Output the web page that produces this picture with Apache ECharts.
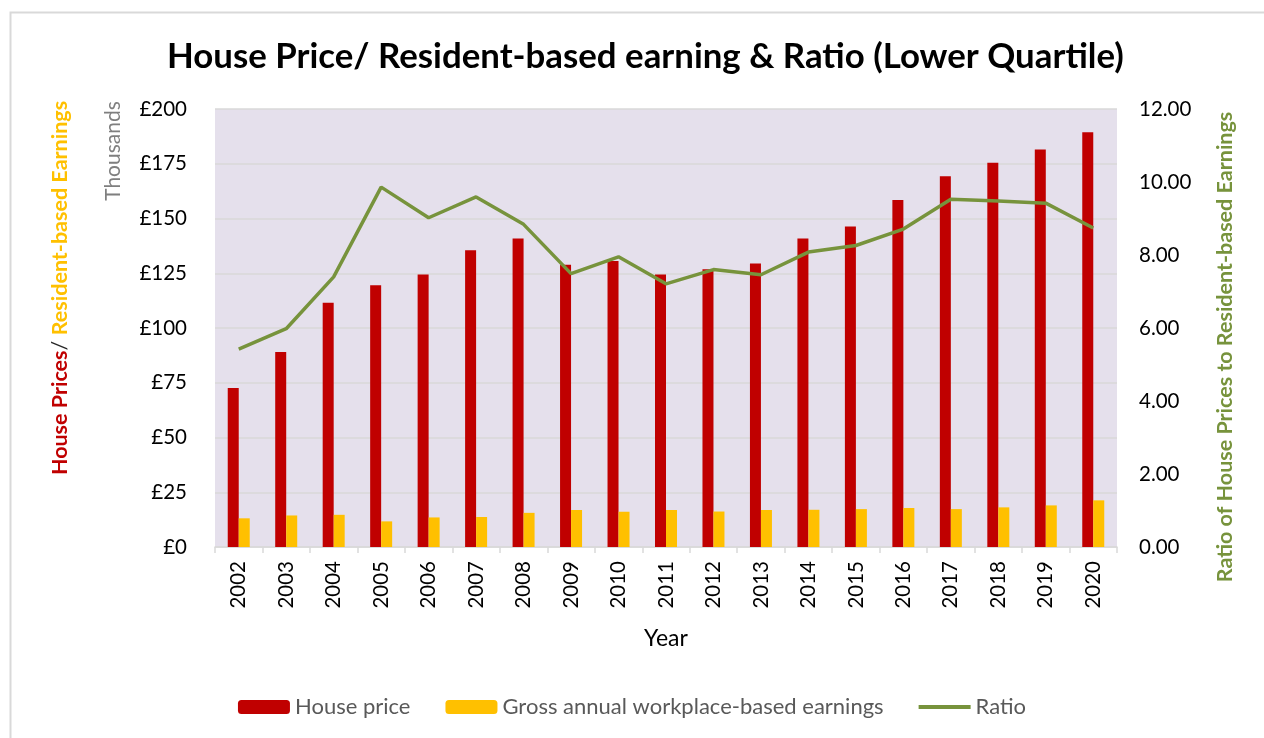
<!DOCTYPE html>
<html>
<head>
<meta charset="utf-8">
<script src="https://cdn.jsdelivr.net/npm/echarts@6/dist/echarts.min.js"></script>
<style>
  html, body { margin: 0; padding: 0; background: #fff; }
  #chart { width: 1264px; height: 738px; }
</style>
</head>
<body>
<div id="chart"></div>
<script>
// years on the x axis
var years = ['2002', '2003', '2004', '2005', '2006', '2007', '2008', '2009', '2010', '2011',
             '2012', '2013', '2014', '2015', '2016', '2017', '2018', '2019', '2020'];
// lower quartile house price, £ thousands
var housePrice = [72.6, 89.0, 111.5, 119.5, 124.4, 135.5, 140.9, 128.9, 130.6, 124.4,
                  126.8, 129.4, 140.9, 146.4, 158.4, 169.3, 175.4, 181.5, 189.4];
// gross annual earnings, £ thousands
var earnings = [13.1, 14.4, 14.7, 11.7, 13.5, 13.7, 15.6, 16.9, 16.1, 16.9,
                16.2, 16.9, 17.0, 17.3, 17.8, 17.3, 18.1, 19.0, 21.3];
// price to earnings ratio
var ratio = [5.42, 5.98, 7.40, 9.86, 9.02, 9.59, 8.84, 7.49, 7.95, 7.21,
             7.60, 7.46, 8.08, 8.26, 8.71, 9.53, 9.48, 9.42, 8.74];

var FONT = 'Lato';
var chartDom = document.getElementById('chart');
var myChart = echarts.init(chartDom);

var option = {
  animation: false,
  textStyle: { fontFamily: FONT },
  title: {
    text: 'House Price/ Resident-based earning & Ratio (Lower Quartile)',
    left: 162,
    top: 34,
    textStyle: { fontFamily: FONT, fontSize: 34.8, fontWeight: 'bold', color: '#000' }
  },
  legend: {
    left: 'center',
    top: 691,
    itemWidth: 52,
    itemHeight: 14,
    itemGap: 35,
    textStyle: { fontFamily: FONT, fontSize: 22, color: '#595959' },
    data: [
      'House price',
      'Gross annual workplace-based earnings',
      { name: 'Ratio', icon: 'path://M0,0 L52,0 L52,4 L0,4 Z' }
    ]
  },
  grid: {
    left: 215, right: 147, top: 109, bottom: 191,
    show: true, backgroundColor: '#e5e0ec', borderWidth: 0
  },
  graphic: [
    { type: 'rect', left: 8, top: 10, z: -10,
      shape: { width: 1300, height: 800 },
      style: { fill: 'none', stroke: '#d9d9d9', lineWidth: 2 } },
    { type: 'text', x: 60, y: 288, rotation: Math.PI / 2,
      style: {
        text: '{a|House Prices}{b|/ }{c|Resident-based Earnings}',
        align: 'center', verticalAlign: 'middle',
        rich: {
          a: { fontFamily: FONT, fontSize: 21.5, fontWeight: 'bold', fill: '#c00000' },
          b: { fontFamily: FONT, fontSize: 21.5, fill: '#262626' },
          c: { fontFamily: FONT, fontSize: 21.5, fontWeight: 'bold', fill: '#ffc000' }
        }
      } },
    { type: 'text', x: 113, y: 151, rotation: Math.PI / 2,
      style: { text: 'Thousands', align: 'center', verticalAlign: 'middle',
        fontFamily: FONT, fontSize: 21, fill: '#7f7f7f' } },
    { type: 'text', x: 1225, y: 347, rotation: Math.PI / 2,
      style: { text: 'Ratio of House Prices to Resident-based Earnings', align: 'center', verticalAlign: 'middle',
        fontFamily: FONT, fontSize: 21.5, fontWeight: 'bold', fill: '#77933c' } }
  ],
  xAxis: {
    type: 'category',
    data: years,
    name: 'Year',
    nameLocation: 'middle',
    nameGap: 80,
    nameTextStyle: { fontFamily: FONT, fontSize: 23, color: '#000' },
    axisLine: { lineStyle: { color: '#d9d9d9', width: 1.5 } },
    axisTick: { show: true, length: 6, lineStyle: { color: '#d9d9d9', width: 1.5 } },
    axisLabel: { rotate: 90, margin: 14, fontSize: 20.5, color: '#000', fontFamily: FONT }
  },
  yAxis: [
    {
      type: 'value', min: 0, max: 200, interval: 25,
      axisLine: { show: false }, axisTick: { show: false },
      axisLabel: { formatter: '£{value}', margin: 28, fontSize: 20.5, color: '#000', fontFamily: FONT },
      splitLine: { lineStyle: { color: '#d9d9d9', width: 1.5 } }
    },
    {
      type: 'value', min: 0, max: 12, interval: 2,
      axisLine: { show: false }, axisTick: { show: false },
      axisLabel: { formatter: function (v) { return v.toFixed(2); }, margin: 22, fontSize: 20.5, color: '#000', fontFamily: FONT },
      splitLine: { show: false }
    }
  ],
  series: [
    { name: 'House price', type: 'bar', data: housePrice, barWidth: 11, barGap: '0%',
      itemStyle: { color: '#c00000' } },
    { name: 'Gross annual workplace-based earnings', type: 'bar', data: earnings, barWidth: 11,
      itemStyle: { color: '#ffc000' } },
    { name: 'Ratio', type: 'line', yAxisIndex: 1, data: ratio, symbol: 'none', z: 5,
      lineStyle: { color: '#77933c', width: 3.5 }, itemStyle: { color: '#77933c' } }
  ]
};
myChart.setOption(option);
</script>
</body>
</html>
